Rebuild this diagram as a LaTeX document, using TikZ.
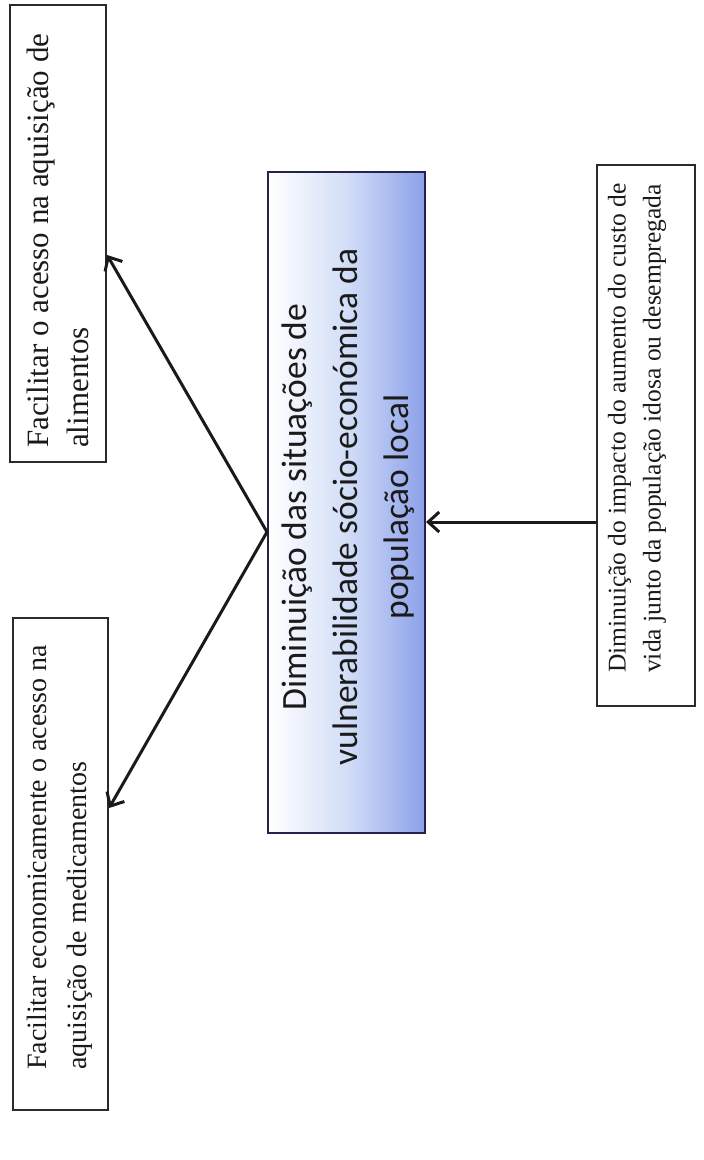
\documentclass[tikz,border=0pt]{standalone}
\usepackage{fontspec}
\setmainfont{Liberation Serif}
\newfontfamily\calib{Carlito}
\usetikzlibrary{arrows.meta}
\definecolor{boxline}{HTML}{2A2A2A}
\definecolor{inkc}{HTML}{1A1A1A}
\definecolor{pale}{RGB}{210,222,247}
\definecolor{peri}{RGB}{140,160,234}
\begin{document}
\begin{tikzpicture}[x=1pt,y=-1pt,
  sidebox/.style={draw=boxline, line width=2.2pt, rotate=90, inner sep=0pt},
  sidetext/.style={rotate=90, anchor=west, align=left, inner sep=0pt, text=inkc},
  mainbox/.style={draw=boxline!85!blue, line width=2pt, rotate=90, inner sep=0pt,
    left color=white, right color=peri, middle color=pale},
  link/.style={draw=inkc, line width=3pt, -{Straight Barb[length=11pt,width=20pt,line width=3pt]}}
]
\useasboundingbox[fill=white] (0,0) rectangle (704,1160);

% boxes
\node[sidebox, minimum width=457pt, minimum height=96pt] (A) at (58,233.5) {};
\node[sidebox, minimum width=492pt, minimum height=95pt] (B) at (60.5,864) {};
\node[mainbox, minimum width=661pt, minimum height=157pt] (C) at (346.5,502.5) {};
\node[sidebox, minimum width=541pt, minimum height=98pt] (D) at (646,435.5) {};

% texts
\node[sidetext, font=\fontsize{31}{40}\selectfont] (At) at (58,448)
  {Facilitar o acesso na aquisição de\\alimentos};
\node[sidetext, font=\fontsize{28}{40}\selectfont] (Bt) at (60,1070)
  {Facilitar economicamente o acesso na\\aquisição de medicamentos};
\node[sidetext, font=\fontsize{25.5}{35}\selectfont] (Dt) at (637,673)
  {Diminuição do impacto do aumento do custo de\\vida junto da população idosa ou desempregada};
\node[rotate=90, align=center, inner sep=0pt, text=inkc,
  font=\calib\fontsize{35.5}{51}\selectfont] (Ct) at (348,507)
  {Diminuição das situações de\\vulnerabilidade sócio-económica da\\população local};

% levels of the connectors
\coordinate (fork) at (0,532);
\coordinate (tipA) at (0,255);
\coordinate (tipB) at (0,808);
\coordinate (feed) at (0,522);

\draw[link] (C.north |- fork) -- (A.south |- tipA);
\draw[link] (C.north |- fork) -- (B.south |- tipB);
\draw[link] (D.north |- feed) -- (C.south |- feed);
\end{tikzpicture}
\end{document}
